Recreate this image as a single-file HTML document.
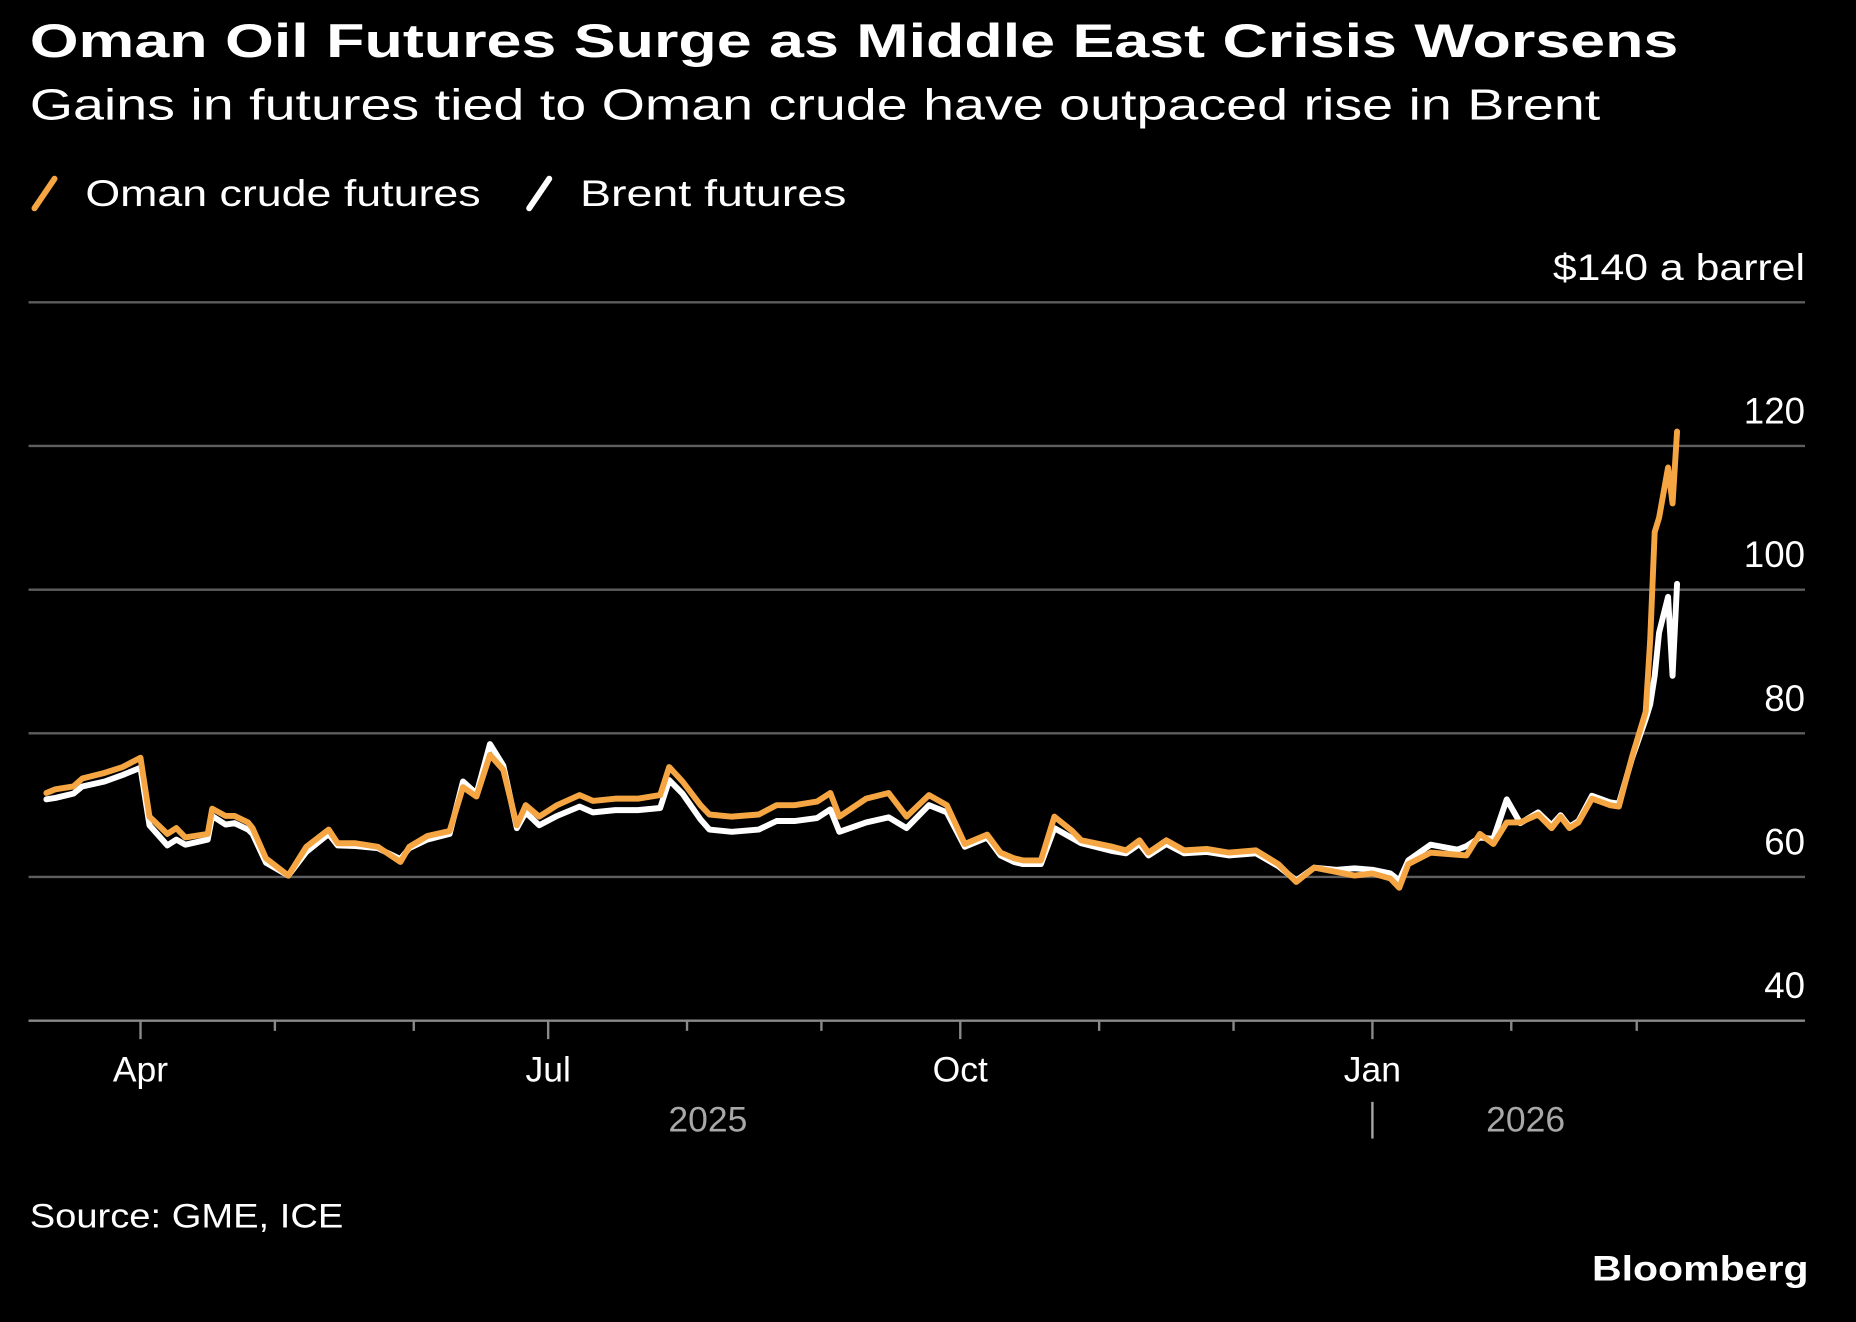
<!DOCTYPE html>
<html><head><meta charset="utf-8"><style>
html,body{margin:0;padding:0;background:#000;}
svg{display:block;}
text{font-family:"Liberation Sans",sans-serif;}
</style></head><body>
<svg id="chart" width="1856" height="1322" viewBox="0 0 1568 1117" xmlns="http://www.w3.org/2000/svg">
<rect width="1568" height="1117" fill="#000"/>
<text x="25" y="48" font-size="40" font-weight="bold" fill="#fff" textLength="1393" lengthAdjust="spacingAndGlyphs">Oman Oil Futures Surge as Middle East Crisis Worsens</text>
<text x="25" y="101" font-size="37" fill="#fff" textLength="1327" lengthAdjust="spacingAndGlyphs">Gains in futures tied to Oman crude have outpaced rise in Brent</text>
<g>
<g>
<line x1="29" y1="176" x2="46" y2="151" stroke="#f5a642" stroke-width="5" stroke-linecap="round"/>
<text x="72" y="174" font-size="31" fill="#fff" textLength="334" lengthAdjust="spacingAndGlyphs">Oman crude futures</text>
</g>
<g>
<line x1="447" y1="176" x2="464" y2="151" stroke="#fff" stroke-width="5" stroke-linecap="round"/>
<text x="490" y="174" font-size="31" fill="#fff" textLength="225" lengthAdjust="spacingAndGlyphs">Brent futures</text>
</g>
</g>
<g id="grid"></g>
<g id="yticks"></g>
<g id="xaxis"></g>
<g id="series"></g>
<text x="25" y="1037" font-size="29" fill="#fff" textLength="265" lengthAdjust="spacingAndGlyphs">Source: GME, ICE</text>
<text x="1528" y="1082" font-size="30" font-weight="bold" fill="#fff" text-anchor="end" textLength="183" lengthAdjust="spacingAndGlyphs">Bloomberg</text>
</svg>
<script>
// days since 2025-03-07
const days = [4,6,10,12,17,21,25,27,31,33,35,40,41,44,46,49,50,53,58,62,67,69,73,78,83,85,89,94,97,100,103,106,109,111,114,118,123,126,131,136,141,143,146,150,152,157,163,167,171,176,179,181,187,192,196,201,205,209,214,217,220,222,226,229,233,235,242,245,248,250,254,258,263,268,274,279,283,287,292,296,300,304,306,308,313,319,321,324,327,330,333,337,340,342,344,346,349,353,355,358,361,362,363,364,366,367,368];
const oman = [71.7,72.2,72.6,73.7,74.5,75.3,76.6,68.4,66.0,66.8,65.5,66.0,69.5,68.5,68.5,67.6,66.8,62.6,60.2,64.2,66.6,64.7,64.7,64.2,62.1,64.2,65.7,66.4,72.5,71.2,77.0,74.9,67.2,70.0,68.4,70.0,71.4,70.6,70.9,70.9,71.4,75.3,73.3,70.0,68.7,68.4,68.7,70.0,70.0,70.5,71.7,68.4,70.9,71.7,68.4,71.4,70.0,64.6,65.9,63.4,62.6,62.3,62.3,68.4,66.4,65.1,64.2,63.7,65.1,63.4,65.1,63.7,63.9,63.4,63.7,61.8,59.3,61.3,60.7,60.2,60.5,59.8,58.5,61.8,63.4,63.1,63.0,66.0,64.6,67.6,67.6,68.7,66.8,68.4,66.8,67.6,70.9,70.0,69.8,76.8,83,93,108,110,117,112,122];
const brent = [70.8,71.0,71.6,72.6,73.3,74.2,75.2,67.2,64.4,65.2,64.5,65.2,68.5,67.3,67.5,66.6,66.0,62.0,60.2,63.5,66.0,64.4,64.3,64.0,62.5,64.0,65.2,66.0,73.3,71.6,78.5,75.5,66.8,69.0,67.2,68.5,69.8,69.0,69.3,69.3,69.6,73.5,71.6,68.0,66.6,66.3,66.6,67.8,67.8,68.2,69.4,66.3,67.6,68.3,66.8,70.0,69.0,64.2,65.5,63.0,62.1,61.8,61.8,66.8,65.4,64.7,63.6,63.3,64.6,63.0,64.6,63.3,63.5,63.0,63.3,61.5,59.5,61.3,61.0,61.2,61.0,60.5,59.5,62.3,64.5,63.8,64.3,65.5,65.3,70.8,67.5,69.0,67.2,68.6,67.0,67.8,71.3,70.4,70.2,76.6,82,84,88,94,99,88,100.8];
const yTicks = [40,60,80,100,120,140];
const yTickLabels = ["40","60","80","100","120","$140 a barrel"];
const monthTickDays = [25,116,208,300];
const monthLabels = ["Apr","Jul","Oct","Jan"];
const minorTickDays = [55,86,147,177,239,269,331,359];
const yearLabels = ["2025","2026"];

const NS="http://www.w3.org/2000/svg";
const X0=24, PXD=3.785, Y60=741, PXU=6.07;
function xs(d){return X0+d*PXD;}
function ys(v){return Y60-(v-60)*PXU;}
function mk(tag,attrs,parent){const e=document.createElementNS(NS,tag);for(const k in attrs)e.setAttribute(k,attrs[k]);parent.appendChild(e);return e;}

const grid=document.getElementById('grid'), yt=document.getElementById('yticks'), xa=document.getElementById('xaxis'), sr=document.getElementById('series');
yTicks.forEach((v,i)=>{
  const y=ys(v);
  const l=mk('line',{x1:24,x2:1525,y1:y,y2:y,stroke:i===0?'#8a8a8a':'#5e5e5e','stroke-width':2},grid);
  
  
  const t=mk('text',{x:1525,y:y-19,'font-size':31,fill:'#fff','text-anchor':'end'},yt);
  if(v===140){t.setAttribute('textLength',213);t.setAttribute('lengthAdjust','spacingAndGlyphs');}
  t.textContent=yTickLabels[i];
  
  
});
monthTickDays.forEach((d,i)=>{
  const x=xs(d);
  const l=mk('line',{x1:x,x2:x,y1:862,y2:878,stroke:'#8a8a8a','stroke-width':2},xa);
  
  
  const t=mk('text',{x:x,y:914,'font-size':30,fill:'#fff','text-anchor':'middle'},xa);
  t.textContent=monthLabels[i];
  
  
});
minorTickDays.forEach(d=>{
  const x=xs(d);
  const l=mk('line',{x1:x,x2:x,y1:862,y2:871,stroke:'#8a8a8a','stroke-width':2},xa);
  
  
});
[[yearLabels[0],598],[yearLabels[1],1289]].forEach(([s,x])=>{
  const t=mk('text',{x:x,y:956,'font-size':30,fill:'#a8a8a8','text-anchor':'middle'},xa);
  t.textContent=s;
  
  
});
const sep=mk('line',{x1:xs(300),x2:xs(300),y1:931,y2:962,stroke:'#a8a8a8','stroke-width':2},xa);



function path(vals,color,name){
  const d=vals.map((v,i)=>(i?'L':'M')+xs(days[i]).toFixed(1)+' '+ys(v).toFixed(1)).join(' ');
  const p=mk('path',{d:d,fill:'none',stroke:color,'stroke-width':5,'stroke-linejoin':'round','stroke-linecap':'round'},sr);
  
  
}
path(brent,'#ffffff','brent-futures-line');
path(oman,'#f5a642','oman-crude-futures-line');
</script>
</body></html>
